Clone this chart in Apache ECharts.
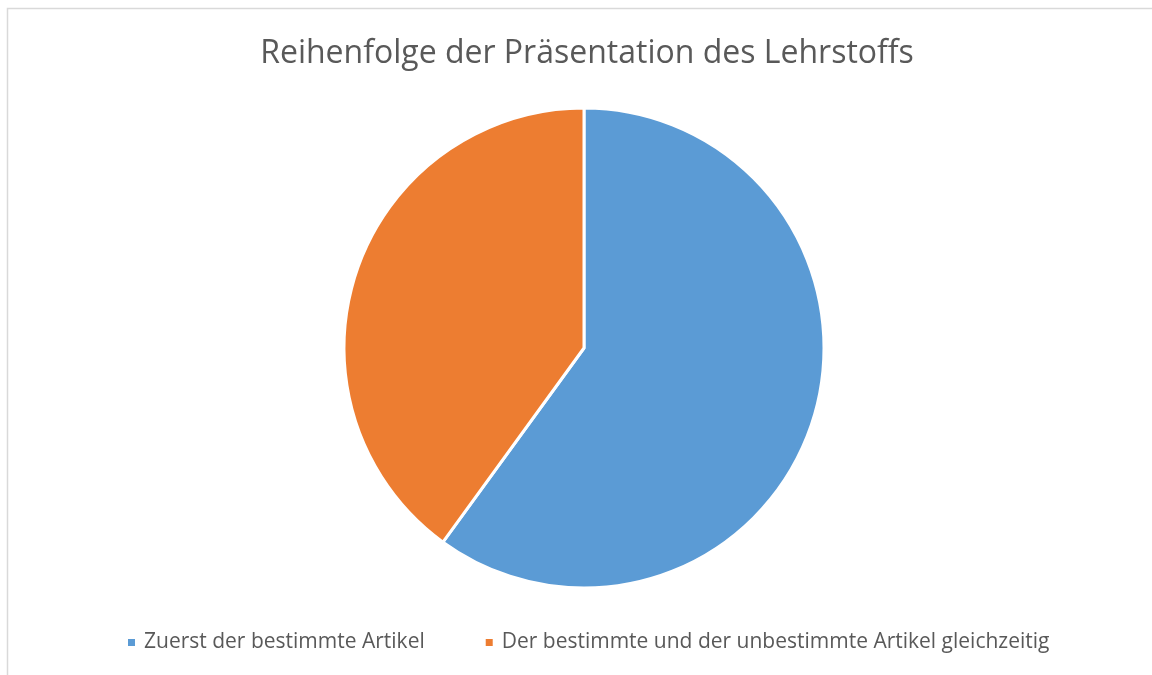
<!DOCTYPE html>
<html>
<head>
    <meta charset="utf-8">
    <script src="https://cdn.jsdelivr.net/npm/echarts@6/dist/echarts.min.js"></script>
    <style>
        html, body { margin: 0; padding: 0; background: #fff; }
    </style>
</head>
<body>
    <div id="main" style="width: 1152px;height:675px;"></div>
    <script type="text/javascript">

    var categories = ['Zuerst der bestimmte Artikel', 'Der bestimmte und der unbestimmte Artikel gleichzeitig'];
    var values = [60, 40];
    var colors = ['#5B9BD5', '#ED7D31'];

    var myChart = echarts.init(document.getElementById('main'));

    var data = categories.map(function (name, i) {
        return { name: name, value: values[i], itemStyle: { color: colors[i] } };
    });

    myChart.setOption({
        animation: false,
        title: {
            text: 'Reihenfolge der Präsentation des Lehrstoffs',
            left: 582,
            top: 33,
            textAlign: 'center',
            textStyle: {
                fontFamily: 'Open Sans',
                fontWeight: 'normal',
                fontSize: 32,
                color: '#595959'
            }
        },
        legend: {
            top: 627,
            left: 121,
            itemWidth: 9,
            itemHeight: 9,
            itemGap: 59,
            icon: 'rect',
            textStyle: {
                fontFamily: 'Open Sans',
                fontSize: 21,
                color: '#595959',
                padding: [0, 0, 0, 3]
            },
            data: categories
        },
        graphic: [{
            type: 'rect',
            shape: { x: 7.5, y: 8.5, width: 1200, height: 700 },
            style: { fill: 'none', stroke: '#d9d9d9', lineWidth: 1.5 },
            silent: true
        }],
        series: [{
            type: 'pie',
            center: [584, 348],
            radius: 240,
            startAngle: 90,
            clockwise: true,
            label: { show: false },
            labelLine: { show: false },
            itemStyle: { borderColor: '#fff', borderWidth: 3 },
            data: data
        }]
    });
    </script>
</body>
</html>
